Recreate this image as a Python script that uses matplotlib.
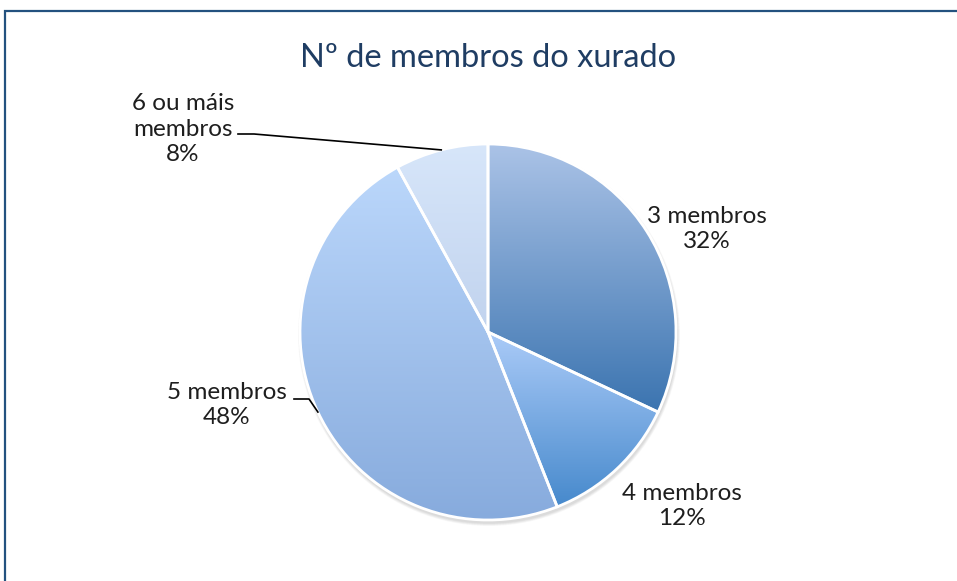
import matplotlib
matplotlib.use("Agg")
import matplotlib.pyplot as plt
import numpy as np
from matplotlib.colors import LinearSegmentedColormap
from matplotlib.patches import Rectangle, Ellipse

plt.rcParams['font.family'] = ['Lato', 'DejaVu Sans']

# datos
categorias = ['3 membros', '4 membros', '5 membros', '6 ou máis\nmembros']
porcentaxes = [32, 12, 48, 8]
titulo = 'Nº de membros do xurado'

# degradado de cada porción (arriba, abaixo)
cores = [('#abc3e7', '#3b74b0'),
         ('#abcbf8', '#4689cc'),
         ('#bbd7fb', '#87abdd'),
         ('#d7e6fa', '#c1d3ee')]

W, H = 957, 581
fig = plt.figure(figsize=(W / 100, H / 100), dpi=100)
ax = fig.add_axes([0, 0, 1, 1])

cx, cy, r = 488, H - 332, 188

# sombra suave
for k in range(6):
    ax.add_patch(Ellipse((cx + 1, cy - 3), 2 * r + 6 - k, 2 * r + 6 - k,
                         facecolor='#000000', alpha=0.025, lw=0, zorder=0))

wedges, _ = ax.pie(porcentaxes, center=(cx, cy), radius=r, startangle=90,
                   counterclock=False,
                   wedgeprops=dict(facecolor='none', edgecolor='white', linewidth=2))
for w in wedges:
    w.set_zorder(3)

# degradado vertical dentro de cada porción
for w, (c1, c2) in zip(wedges, cores):
    t = np.radians(np.linspace(w.theta1, w.theta2, 100))
    ys = np.concatenate([cy + r * np.sin(t), [cy]])
    xs = np.concatenate([cx + r * np.cos(t), [cx]])
    cmap = LinearSegmentedColormap.from_list('g', [c2, c1])
    grad = np.linspace(0, 1, 256).reshape(-1, 1)
    im = ax.imshow(grad, cmap=cmap, origin='lower', aspect='auto',
                   extent=(xs.min(), xs.max(), ys.min(), ys.max()), zorder=2)
    im.set_clip_path(w)

# etiquetas e liñas guía
pos_etiq = [(707, 229), (682, 506), (227, 405), (183, 129)]
for w, cat, p, (lx, ly) in zip(wedges, categorias, porcentaxes, pos_etiq):
    ax.text(lx, H - ly, f'{cat}\n{p}%', ha='center', va='center',
            fontsize=17.5, color='#1e1e1e', linespacing=1.25, zorder=5)

guias = {2: (294, 399, 309), 3: (238, 134, 254)}
for i, (x0, y0, x1) in guias.items():
    w = wedges[i]
    a = np.radians((w.theta1 + w.theta2) / 2)
    ex, ey = cx + r * np.cos(a), cy + r * np.sin(a)
    ax.plot([x0, x1, ex], [H - y0, H - y0, ey], color='black', lw=1.2, zorder=4)

ax.text(488, H - 58, titulo, ha='center', va='center', fontsize=23.5,
        color='#1f3d63', zorder=5)

# marco
ax.add_patch(Rectangle((4.5, -20), 1000, H - 10.5 + 20, facecolor='none',
                       edgecolor='#23527f', lw=1.6, zorder=6))

ax.set_xlim(0, W)
ax.set_ylim(0, H)
ax.set_aspect('auto')
ax.axis('off')

fig.savefig('out.png', dpi=100)
